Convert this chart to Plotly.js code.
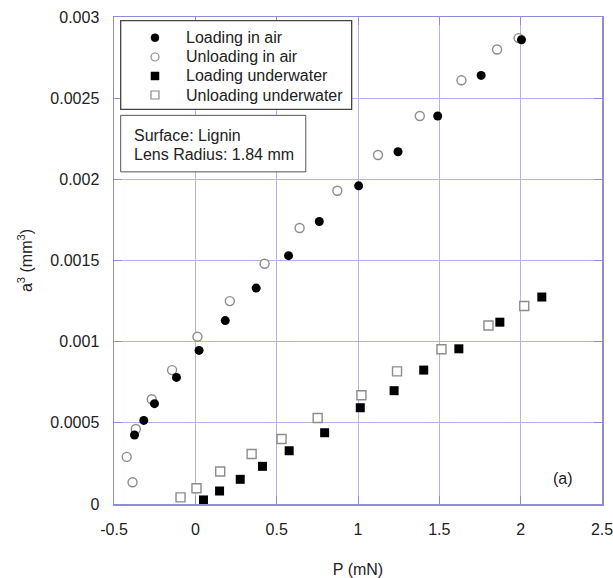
<!DOCTYPE html>
<html>
<head>
<meta charset="utf-8">
<script src="https://cdn.plot.ly/plotly-3.0.1.min.js"></script>
<style>html,body{margin:0;padding:0;background:#fff;}</style>
</head>
<body>
<div id="chart" style="width:613px;height:578px;"></div>
<script>
// ---- data ----
const seriesNames = ["Loading in air", "Unloading in air", "Loading underwater", "Unloading underwater"];

const loadAirP = [-0.374, -0.317, -0.251, -0.116, 0.023, 0.184, 0.374, 0.573, 0.762, 1.004, 1.246, 1.490, 1.757, 2.005];
const loadAirA = [0.000425, 0.000515, 0.000618, 0.00078, 0.000946, 0.00113, 0.00133, 0.00153, 0.00174, 0.00196, 0.00217, 0.00239, 0.00264, 0.00286];

const unloadAirP = [-0.386, -0.422, -0.366, -0.268, -0.143, 0.013, 0.212, 0.426, 0.641, 0.873, 1.123, 1.380, 1.636, 1.855, 1.987];
const unloadAirA = [0.000134, 0.00029, 0.000462, 0.000645, 0.000825, 0.00103, 0.00125, 0.00148, 0.0017, 0.00193, 0.00215, 0.00239, 0.00261, 0.0028, 0.00287];

const loadWaterP = [0.050, 0.149, 0.276, 0.413, 0.577, 0.795, 1.014, 1.222, 1.404, 1.620, 1.872, 2.130];
const loadWaterA = [0.000025, 0.00008, 0.000152, 0.000232, 0.000328, 0.000439, 0.000593, 0.000698, 0.000825, 0.000956, 0.00112, 0.001275];

const unloadWaterP = [-0.091, 0.007, 0.153, 0.346, 0.530, 0.752, 1.021, 1.240, 1.513, 1.802, 2.022];
const unloadWaterA = [0.000041, 0.000097, 0.0002, 0.000308, 0.0004, 0.00053, 0.00067, 0.000817, 0.000953, 0.0011, 0.00122];

const xTickVals = [-0.5, 0, 0.5, 1, 1.5, 2, 2.5];
const xTickText = ["-0.5", "0", "0.5", "1", "1.5", "2", "2.5"];
const yTickVals = [0, 0.0005, 0.001, 0.0015, 0.002, 0.0025, 0.003];
const yTickText = ["0", "0.0005", "0.001", "0.0015", "0.002", "0.0025", "0.003"];

const infoLines = ["Surface: Lignin", "Lens Radius: 1.84 mm"];
const panelLabel = "(a)";

// ---- styles ----
const FONT = "Liberation Sans, Arial, sans-serif";
const TXT = "#222";
const GRID = "#b4b4ec";
const FRAME = "#8c8cd8";
const OPEN = "#8c8c8c";

const styles = [
  {symbol: "circle", color: "#000", line: {color: "#000", width: 0}},
  {symbol: "circle", color: "#fff", line: {color: OPEN, width: 1.4}},
  {symbol: "square", color: "#000", line: {color: "#000", width: 0}},
  {symbol: "square", color: "#fff", line: {color: OPEN, width: 1.4}}
];

function mk(i, xs, ys) {
  return {
    type: "scatter", mode: "markers", name: seriesNames[i], x: xs, y: ys,
    showlegend: false, cliponaxis: false,
    marker: {symbol: styles[i].symbol, size: 9, color: styles[i].color, line: styles[i].line}
  };
}

const traces = [
  mk(1, unloadAirP, unloadAirA),
  mk(3, unloadWaterP, unloadWaterA),
  mk(0, loadAirP, loadAirA),
  mk(2, loadWaterP, loadWaterA)
];

// legend drawn manually (paper coords)
const legX0 = 0.0137, legX1 = 0.487, legY0 = 0.8105, legY1 = 0.9924;
const legSymX = 0.084, legTxtX = 0.1434;
const legRows = [0.9575, 0.9179, 0.8789, 0.8398];

const shapes = [
  {type: "rect", xref: "paper", yref: "paper", x0: legX0, x1: legX1, y0: legY0, y1: legY1,
   line: {color: "#444", width: 1.3}, fillcolor: "#fff", layer: "above"},
  {type: "rect", xref: "paper", yref: "paper", x0: 0.0137, x1: 0.393, y0: 0.682, y1: 0.798,
   line: {color: "#555", width: 1}, fillcolor: "#fff", layer: "above"}
];
const annotations = [];
for (let i = 0; i < 4; i++) {
  const st = styles[i];
  shapes.push({
    type: st.symbol === "circle" ? "circle" : "rect",
    xref: "paper", yref: "paper", xsizemode: "pixel", ysizemode: "pixel",
    xanchor: legSymX, yanchor: legRows[i], x0: -4, x1: 4, y0: -4, y1: 4,
    fillcolor: st.color, line: {color: st.line.width ? st.line.color : st.color, width: st.line.width ? 1.2 : 0.5},
    layer: "above"
  });
  annotations.push({
    xref: "paper", yref: "paper", x: legTxtX, y: legRows[i], xanchor: "left", yanchor: "middle",
    text: seriesNames[i], showarrow: false, font: {family: FONT, size: 16, color: TXT}
  });
}
annotations.push({xref: "paper", yref: "paper", x: 0.0363, y: 0.757, xanchor: "left", yanchor: "middle",
  text: infoLines[0], showarrow: false, font: {family: FONT, size: 16, color: TXT}});
annotations.push({xref: "paper", yref: "paper", x: 0.0363, y: 0.718, xanchor: "left", yanchor: "middle",
  text: infoLines[1], showarrow: false, font: {family: FONT, size: 16, color: TXT}});
annotations.push({xref: "paper", yref: "paper", x: 0.9207, y: 0.0528, xanchor: "center", yanchor: "middle",
  text: panelLabel, showarrow: false, font: {family: FONT, size: 16, color: TXT}});

const axisCommon = {
  showgrid: true, gridcolor: GRID, gridwidth: 1,
  showline: true, linecolor: FRAME, linewidth: 1.5, mirror: "ticks",
  ticks: "inside", ticklen: 8, tickcolor: FRAME, tickwidth: 1,
  zeroline: false, tickfont: {family: FONT, size: 16, color: TXT},
  tickmode: "array", ticklabeloverflow: "allow"
};

const layout = {
  width: 613, height: 578,
  margin: {l: 114, r: 11, t: 17, b: 74},
  paper_bgcolor: "#fff", plot_bgcolor: "#fff",
  font: {family: FONT, color: TXT},
  showlegend: false,
  xaxis: Object.assign({}, axisCommon, {
    range: [-0.5, 2.5], tickvals: xTickVals, ticktext: xTickText, ticklabelstandoff: 10,
    title: {text: "P (mN)", font: {family: FONT, size: 16, color: TXT}, standoff: 28}
  }),
  yaxis: Object.assign({}, axisCommon, {
    range: [0, 0.003], tickvals: yTickVals, ticktext: yTickText, ticklabelstandoff: 10,
    title: {text: "a<sup>3</sup> (mm<sup>3</sup>)", font: {family: FONT, size: 16, color: TXT}, standoff: 14}
  }),
  shapes: shapes,
  annotations: annotations
};

Plotly.newPlot("chart", traces, layout, {displayModeBar: false, staticPlot: true});
</script>
</body>
</html>
